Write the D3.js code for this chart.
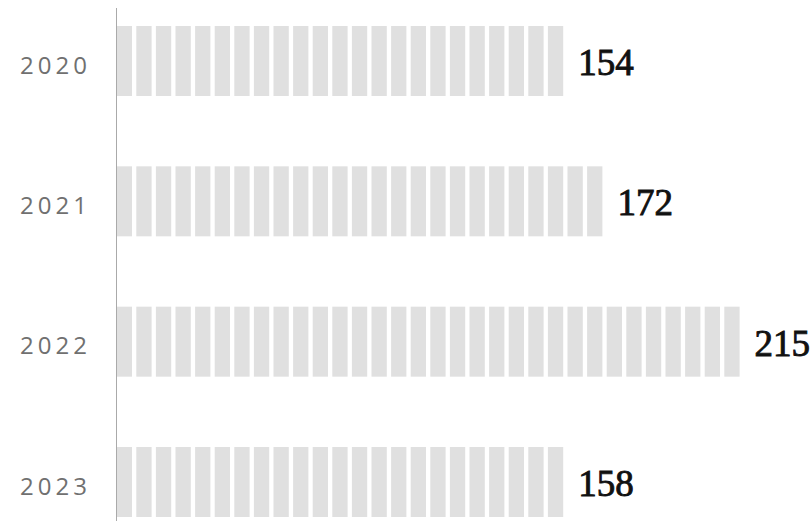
<!DOCTYPE html>
<html>
<head>
<meta charset="utf-8">
<script src="https://cdn.jsdelivr.net/npm/d3@7"></script>
<style>
  html, body { margin: 0; padding: 0; background: #fff; }
  svg { display: block; }
</style>
</head>
<body>
<div id="chart"></div>
<script>
// data
const years = ["2020", "2021", "2022", "2023"];
const counts = [154, 172, 215, 158];

const width = 810, height = 523;
const x0 = 116.7;          // left edge of plot (axis line)
const segW = 15.3, pitch = 19.6;
const barH = 70;

const svg = d3.select("#chart")
  .append("svg")
  .attr("width", width)
  .attr("height", height);

const x = d3.scaleLinear().domain([0, 250]).range([0, 710]);
const y = d3.scalePoint().domain(years).range([61, 482]);

const rows = years.map((yr, i) => {
  const n = Math.ceil(x(counts[i]) / pitch);
  return { year: yr, value: counts[i], n: n, end: x0 + (n - 1) * pitch + segW };
});

// segmented bars
const g = svg.append("g");
rows.forEach(r => {
  g.selectAll(null)
    .data(d3.range(r.n))
    .enter().append("rect")
    .attr("x", i => x0 + i * pitch)
    .attr("y", y(r.year) - barH / 2)
    .attr("width", segW)
    .attr("height", barH)
    .attr("fill", "#e0e0e0");
});

// y axis line
svg.append("line")
  .attr("x1", 116.5).attr("x2", 116.5)
  .attr("y1", 8).attr("y2", 521)
  .attr("stroke", "#aaa")
  .attr("stroke-width", 1);

// year labels
svg.selectAll(".yl")
  .data(rows)
  .enter().append("text")
  .attr("class", "yl")
  .attr("x", 91)
  .attr("y", d => y(d.year) + 3)
  .attr("text-anchor", "end")
  .attr("dominant-baseline", "central")
  .attr("font-family", "'Open Sans', sans-serif")
  .attr("font-size", 24)
  .attr("letter-spacing", 4)
  .attr("fill", "#707070")
  .text(d => d.year);

// value labels
svg.selectAll(".vl")
  .data(rows)
  .enter().append("text")
  .attr("class", "vl")
  .attr("x", d => d.end + 15)
  .attr("y", d => y(d.year) + 14)
  .attr("font-family", "'Liberation Serif', serif")
  .attr("font-size", 37)
  .attr("fill", "#111")
  .attr("stroke", "#111")
  .attr("stroke-width", 0.9)
  .text(d => d.value);
</script>
</body>
</html>
